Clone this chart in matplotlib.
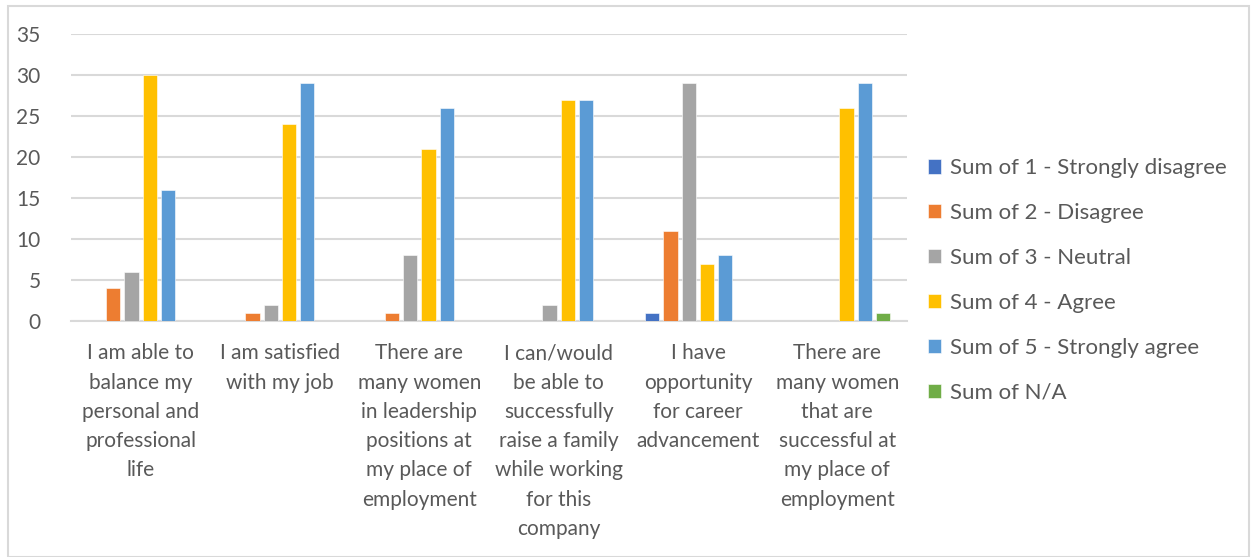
import numpy as np
import matplotlib.pyplot as plt
from matplotlib.patches import Rectangle

# Survey statements (category labels, wrapped as displayed)
statements = [
    "I am able to\nbalance my\npersonal and\nprofessional\nlife",
    "I am satisfied\nwith my job",
    "There are\nmany women\nin leadership\npositions at\nmy place of\nemployment",
    "I can/would\nbe able to\nsuccessfully\nraise a family\nwhile working\nfor this\ncompany",
    "I have\nopportunity\nfor career\nadvancement",
    "There are\nmany women\nthat are\nsuccessful at\nmy place of\nemployment",
]

# Response counts per statement
strongly_disagree = [0, 0, 0, 0, 1, 0]
disagree = [4, 1, 1, 0, 11, 0]
neutral = [6, 2, 8, 2, 29, 0]
agree = [30, 24, 21, 27, 7, 26]
strongly_agree = [16, 29, 26, 27, 8, 29]
not_applicable = [0, 0, 0, 0, 0, 1]

series_names = [
    "Sum of 1 - Strongly disagree",
    "Sum of 2 - Disagree",
    "Sum of 3 - Neutral",
    "Sum of 4 - Agree",
    "Sum of 5 - Strongly agree",
    "Sum of N/A",
]
series_values = [strongly_disagree, disagree, neutral, agree, strongly_agree, not_applicable]
colors = ["#4472C4", "#ED7D31", "#A5A5A5", "#FFC000", "#5B9BD5", "#70AD47"]

plt.rcParams['font.family'] = ['Lato', 'DejaVu Sans']
text_color = "#595959"
grid_color = "#D9D9D9"

fig = plt.figure(figsize=(12.52, 5.57), dpi=100)
ax = fig.add_axes([0.0567, 0.4237, 0.6677, 0.5153])

x = np.arange(len(statements))
pitch = 0.131
width = 0.102
for i, (name, vals, col) in enumerate(zip(series_names, series_values, colors)):
    ax.bar(x + (i - 2.5) * pitch, vals, width, color=col, label=name,
           edgecolor="white", linewidth=0.4, zorder=3)

ax.set_xlim(-0.5, len(statements) - 0.5)
ax.set_ylim(0, 35)
ax.set_yticks(range(0, 36, 5))
ax.yaxis.grid(True, color=grid_color, linewidth=1.5, zorder=0)
ax.set_axisbelow(True)
for side in ["top", "right", "left"]:
    ax.spines[side].set_visible(False)
ax.spines["bottom"].set_color(grid_color)
ax.spines["bottom"].set_linewidth(1.5)

ax.set_xticks(x)
ax.set_xticklabels(statements, fontsize=15, color=text_color, linespacing=1.58)
ax.tick_params(axis="x", length=0, pad=16)
ax.tick_params(axis="y", length=0, pad=22, labelsize=15, labelcolor=text_color)

leg = fig.legend(loc="center left", bbox_to_anchor=(0.725, 0.4964), frameon=False,
                 fontsize=16, handlelength=0.6, handleheight=0.6, handletextpad=0.4,
                 labelspacing=1.12, labelcolor=text_color)

# light frame around the whole chart
fig.patches.append(Rectangle((0.006, 0.0), 0.992, 0.99, transform=fig.transFigure,
                             fill=False, edgecolor=grid_color, linewidth=1.5))

fig.savefig("out.png", dpi=100)
